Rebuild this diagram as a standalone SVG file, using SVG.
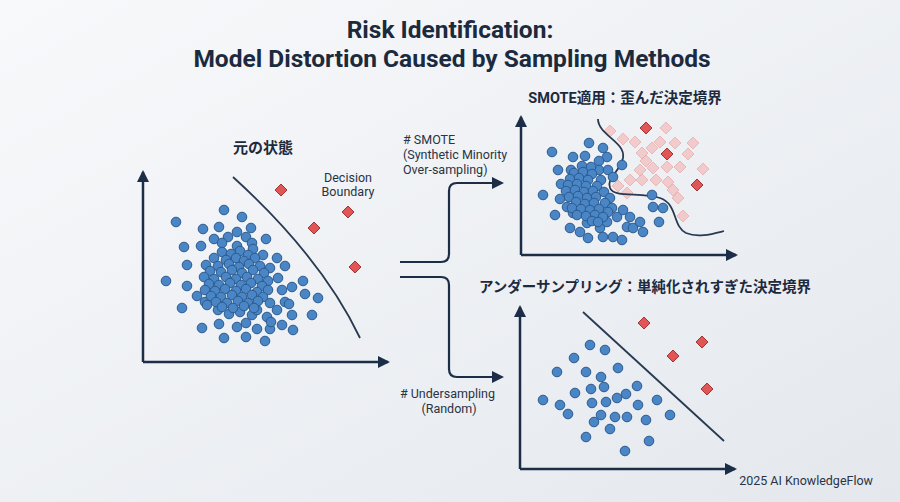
<svg xmlns="http://www.w3.org/2000/svg" width="900" height="502" viewBox="0 0 900 502">
<defs>
<linearGradient id="bg" x1="0" y1="0" x2="1" y2="1">
<stop offset="0" stop-color="#f8f9fb"/>
<stop offset="1" stop-color="#e4e8ed"/>
</linearGradient>
<marker id="ah" viewBox="0 0 12 12" refX="10" refY="6" markerWidth="12" markerHeight="12" markerUnits="userSpaceOnUse" orient="auto">
<path d="M0,0 L12,6 L0,12 Z" fill="#1c2e47"/>
</marker>
<path id="dm" d="M0,-6 L6,0 L0,6 L-6,0 Z"/>
</defs>
<style>
.axis{stroke:#1c2e47;stroke-width:2.5;fill:none}
.conn{stroke:#1c2e47;stroke-width:2.2;fill:none}
.bd{stroke:#283a52;stroke-width:1.8;fill:none}
.dots circle{fill:#4a86c6;stroke:#2b5a8e;stroke-width:1}
.red use{fill:#e05656;stroke:#a63333;stroke-width:1}
.pink use{fill:#f4bcbc;stroke:#eaa0a0;stroke-width:1;opacity:0.7}
.t{font-family:Roboto,"Noto Sans CJK JP",sans-serif;fill:#1c2a3e}
.h{font-family:Roboto,"Noto Sans CJK JP",sans-serif;font-weight:bold;fill:#1c2a3e}
.s{font-family:Roboto,"Liberation Sans",sans-serif;fill:#2a3444;font-size:12.5px}
</style>
<rect width="900" height="502" fill="url(#bg)"/>
<g id="title">
<text class="h" x="450" y="38" font-size="24.5" text-anchor="middle">Risk Identification:</text>
<text class="h" x="452" y="67" font-size="24.5" text-anchor="middle">Model Distortion Caused by Sampling Methods</text>
</g>
<g id="connectors">
<path class="conn" d="M400,262 H441 Q449,262 449,254 V191 Q449,183 457,183 H502" marker-end="url(#ah)"/>
<path class="conn" d="M400,277 H441 Q449,277 449,285 V369 Q449,377 457,377 H502" marker-end="url(#ah)"/>
<text class="s" x="403" y="144">
<tspan x="403">#&#160;SMOTE</tspan>
<tspan x="403" dy="15">(Synthetic Minority</tspan>
<tspan x="403" dy="15">Over-sampling)</tspan>
</text>
<text class="s" x="449" y="398" text-anchor="middle">
<tspan x="449"># Undersampling</tspan>
<tspan x="449" dy="15">(Random)</tspan>
</text>
</g>
<g id="original">
<text class="h" x="263" y="153" font-size="15" text-anchor="middle">元の状態</text>
<path class="axis" d="M143,362 V172" marker-end="url(#ah)"/>
<path class="axis" d="M143,362 H388" marker-end="url(#ah)"/>
<path class="bd" d="M233,177 Q322,258 360,338"/>
<text class="s" x="348" y="182" text-anchor="middle" font-size="12"><tspan x="348">Decision</tspan><tspan x="348" dy="14">Boundary</tspan></text>
<g class="red">
<use href="#dm" x="281" y="190"/><use href="#dm" x="348" y="212"/><use href="#dm" x="314" y="228"/><use href="#dm" x="355" y="267"/>
</g>
<g class="dots">
<circle cx="224" cy="210" r="4.8"/><circle cx="176" cy="222" r="4.8"/><circle cx="242" cy="217" r="4.8"/><circle cx="203" cy="229" r="4.8"/><circle cx="219" cy="227" r="4.8"/><circle cx="251" cy="228" r="4.8"/><circle cx="237" cy="232" r="4.8"/><circle cx="228" cy="237" r="4.8"/><circle cx="214" cy="239" r="4.8"/><circle cx="246" cy="237" r="4.8"/><circle cx="266" cy="239" r="4.8"/><circle cx="184" cy="247" r="4.8"/><circle cx="201" cy="246" r="4.8"/><circle cx="222" cy="243" r="4.8"/><circle cx="237" cy="246" r="4.8"/><circle cx="252" cy="243" r="4.8"/><circle cx="253" cy="249" r="4.8"/><circle cx="187" cy="265" r="4.8"/><circle cx="166" cy="281" r="4.8"/><circle cx="187" cy="286" r="4.8"/><circle cx="197" cy="296" r="4.8"/><circle cx="182" cy="308" r="4.8"/><circle cx="205" cy="302" r="4.8"/><circle cx="277" cy="258" r="4.8"/><circle cx="285" cy="266" r="4.8"/><circle cx="278" cy="278" r="4.8"/><circle cx="303" cy="281" r="4.8"/><circle cx="292" cy="287" r="4.8"/><circle cx="305" cy="294" r="4.8"/><circle cx="318" cy="298" r="4.8"/><circle cx="282" cy="290" r="4.8"/><circle cx="285" cy="302" r="4.8"/><circle cx="289" cy="304" r="4.8"/><circle cx="292" cy="315" r="4.8"/><circle cx="312" cy="315" r="4.8"/><circle cx="277" cy="310" r="4.8"/><circle cx="270" cy="303" r="4.8"/><circle cx="202" cy="328" r="4.8"/><circle cx="219" cy="324" r="4.8"/><circle cx="224" cy="338" r="4.8"/><circle cx="237" cy="327" r="4.8"/><circle cx="246" cy="323" r="4.8"/><circle cx="246" cy="337" r="4.8"/><circle cx="257" cy="329" r="4.8"/><circle cx="265" cy="341" r="4.8"/><circle cx="270" cy="329" r="4.8"/><circle cx="282" cy="325" r="4.8"/><circle cx="293" cy="330" r="4.8"/><circle cx="229" cy="314" r="4.8"/><circle cx="240" cy="312" r="4.8"/><circle cx="252" cy="315" r="4.8"/><circle cx="257" cy="310" r="4.8"/><circle cx="267" cy="317" r="4.8"/><circle cx="271" cy="322" r="4.8"/><circle cx="207" cy="305" r="4.8"/><circle cx="218" cy="310" r="4.8"/><circle cx="263" cy="255" r="4.8"/><circle cx="270" cy="268" r="4.8"/>
<circle cx="222" cy="252" r="4.8"/><circle cx="231" cy="254" r="4.8"/><circle cx="240" cy="251" r="4.8"/><circle cx="248" cy="255" r="4.8"/>
<circle cx="214" cy="258" r="4.8"/><circle cx="226" cy="260" r="4.8"/><circle cx="236" cy="258" r="4.8"/><circle cx="244" cy="261" r="4.8"/><circle cx="255" cy="258" r="4.8"/>
<circle cx="206" cy="265" r="4.8"/><circle cx="218" cy="266" r="4.8"/><circle cx="229" cy="264" r="4.8"/><circle cx="239" cy="267" r="4.8"/><circle cx="249" cy="264" r="4.8"/><circle cx="260" cy="266" r="4.8"/>
<circle cx="210" cy="271" r="4.8"/><circle cx="221" cy="272" r="4.8"/><circle cx="232" cy="270" r="4.8"/><circle cx="242" cy="273" r="4.8"/><circle cx="253" cy="270" r="4.8"/><circle cx="264" cy="273" r="4.8"/>
<circle cx="204" cy="277" r="4.8"/><circle cx="214" cy="279" r="4.8"/><circle cx="226" cy="277" r="4.8"/><circle cx="236" cy="279" r="4.8"/><circle cx="247" cy="277" r="4.8"/><circle cx="258" cy="279" r="4.8"/><circle cx="268" cy="281" r="4.8"/>
<circle cx="209" cy="284" r="4.8"/><circle cx="219" cy="285" r="4.8"/><circle cx="230" cy="283" r="4.8"/><circle cx="241" cy="285" r="4.8"/><circle cx="251" cy="283" r="4.8"/><circle cx="262" cy="286" r="4.8"/>
<circle cx="205" cy="290" r="4.8"/><circle cx="215" cy="291" r="4.8"/><circle cx="225" cy="289" r="4.8"/><circle cx="236" cy="291" r="4.8"/><circle cx="246" cy="289" r="4.8"/><circle cx="257" cy="292" r="4.8"/><circle cx="268" cy="290" r="4.8"/>
<circle cx="211" cy="296" r="4.8"/><circle cx="221" cy="297" r="4.8"/><circle cx="232" cy="295" r="4.8"/><circle cx="242" cy="297" r="4.8"/><circle cx="252" cy="295" r="4.8"/><circle cx="263" cy="297" r="4.8"/>
<circle cx="216" cy="302" r="4.8"/><circle cx="227" cy="303" r="4.8"/><circle cx="238" cy="301" r="4.8"/><circle cx="248" cy="303" r="4.8"/><circle cx="258" cy="301" r="4.8"/>
<circle cx="222" cy="307" r="4.8"/><circle cx="233" cy="308" r="4.8"/><circle cx="244" cy="306" r="4.8"/><circle cx="254" cy="308" r="4.8"/>
</g>
</g>
<g id="smote">
<text class="h" x="625" y="103" font-size="14.5" text-anchor="middle">SMOTE適用：歪んだ決定境界</text>
<path class="axis" d="M521,255 V117" marker-end="url(#ah)"/>
<path class="axis" d="M521,255 H736" marker-end="url(#ah)"/>
<g class="pink">
<use href="#dm" x="610" y="131"/><use href="#dm" x="623" y="139"/><use href="#dm" x="635" y="142"/><use href="#dm" x="666" y="128"/><use href="#dm" x="660" y="142"/><use href="#dm" x="652" y="148"/><use href="#dm" x="642" y="153"/><use href="#dm" x="675" y="143"/><use href="#dm" x="693" y="143"/><use href="#dm" x="646" y="161"/><use href="#dm" x="653" y="168"/><use href="#dm" x="667" y="167"/><use href="#dm" x="680" y="167"/><use href="#dm" x="688" y="154"/><use href="#dm" x="703" y="169"/><use href="#dm" x="640" y="170"/><use href="#dm" x="630" y="180"/><use href="#dm" x="618" y="186"/><use href="#dm" x="627" y="193"/><use href="#dm" x="642" y="180"/><use href="#dm" x="656" y="180"/><use href="#dm" x="668" y="182"/><use href="#dm" x="673" y="190"/><use href="#dm" x="678" y="198"/><use href="#dm" x="683" y="216"/>
</g>
<g class="red">
<use href="#dm" x="646" y="128"/><use href="#dm" x="667" y="154"/><use href="#dm" x="697" y="185"/>
</g>
<path class="bd" d="M598,119 C598,135 626,142 623,158 C620,172 606,178 610,188 C614,198 640,192 660,198 C678,204 672,226 686,233 C698,238 712,234 724,231"/>
<g class="dots">
<circle cx="589" cy="143" r="4.8"/><circle cx="552" cy="152" r="4.8"/><circle cx="573" cy="157" r="4.8"/><circle cx="585" cy="156" r="4.8"/><circle cx="603" cy="148" r="4.8"/><circle cx="607" cy="157" r="4.8"/><circle cx="599" cy="161" r="4.8"/><circle cx="558" cy="170" r="4.8"/><circle cx="571" cy="170" r="4.8"/><circle cx="599" cy="170" r="4.8"/><circle cx="608" cy="170" r="4.8"/><circle cx="622" cy="165" r="4.8"/><circle cx="613" cy="177" r="4.8"/><circle cx="561" cy="184" r="4.8"/><circle cx="543" cy="195" r="4.8"/><circle cx="560" cy="199" r="4.8"/><circle cx="567" cy="207" r="4.8"/><circle cx="555" cy="215" r="4.8"/><circle cx="573" cy="213" r="4.8"/><circle cx="570" cy="228" r="4.8"/><circle cx="587" cy="223" r="4.8"/><circle cx="580" cy="232" r="4.8"/><circle cx="588" cy="238" r="4.8"/><circle cx="600" cy="228" r="4.8"/><circle cx="607" cy="222" r="4.8"/><circle cx="617" cy="217" r="4.8"/><circle cx="623" cy="210" r="4.8"/><circle cx="630" cy="217" r="4.8"/><circle cx="627" cy="227" r="4.8"/><circle cx="633" cy="228" r="4.8"/><circle cx="643" cy="232" r="4.8"/><circle cx="640" cy="222" r="4.8"/><circle cx="652" cy="195" r="4.8"/><circle cx="653" cy="207" r="4.8"/><circle cx="663" cy="208" r="4.8"/><circle cx="659" cy="222" r="4.8"/><circle cx="603" cy="237" r="4.8"/><circle cx="613" cy="237" r="4.8"/><circle cx="622" cy="240" r="4.8"/>
<circle cx="582" cy="166" r="4.8"/><circle cx="591" cy="167" r="4.8"/>
<circle cx="574" cy="173" r="4.8"/><circle cx="583" cy="172" r="4.8"/><circle cx="592" cy="174" r="4.8"/><circle cx="601" cy="180" r="4.8"/>
<circle cx="570" cy="179" r="4.8"/><circle cx="579" cy="178" r="4.8"/><circle cx="588" cy="180" r="4.8"/><circle cx="597" cy="186" r="4.8"/>
<circle cx="568" cy="185" r="4.8"/><circle cx="577" cy="184" r="4.8"/><circle cx="586" cy="186" r="4.8"/><circle cx="604" cy="192" r="4.8"/>
<circle cx="566" cy="191" r="4.8"/><circle cx="575" cy="190" r="4.8"/><circle cx="584" cy="192" r="4.8"/><circle cx="593" cy="191" r="4.8"/><circle cx="610" cy="198" r="4.8"/>
<circle cx="569" cy="197" r="4.8"/><circle cx="578" cy="196" r="4.8"/><circle cx="587" cy="198" r="4.8"/><circle cx="596" cy="197" r="4.8"/><circle cx="605" cy="203" r="4.8"/>
<circle cx="576" cy="202" r="4.8"/><circle cx="585" cy="204" r="4.8"/><circle cx="594" cy="203" r="4.8"/><circle cx="612" cy="208" r="4.8"/>
<circle cx="572" cy="208" r="4.8"/><circle cx="581" cy="209" r="4.8"/><circle cx="590" cy="210" r="4.8"/><circle cx="599" cy="209" r="4.8"/><circle cx="608" cy="212" r="4.8"/>
<circle cx="577" cy="215" r="4.8"/><circle cx="586" cy="216" r="4.8"/><circle cx="595" cy="215" r="4.8"/><circle cx="603" cy="217" r="4.8"/>
<circle cx="592" cy="221" r="4.8"/><circle cx="598" cy="222" r="4.8"/>
</g>
</g>
<g id="undersampling">
<text class="h" x="645" y="292" font-size="14.5" text-anchor="middle">アンダーサンプリング：単純化されすぎた決定境界</text>
<path class="axis" d="M520,469 V307" marker-end="url(#ah)"/>
<path class="axis" d="M520,469 H735" marker-end="url(#ah)"/>
<path class="bd" d="M583,312 L724,441"/>
<g class="red">
<use href="#dm" x="644" y="323"/><use href="#dm" x="702" y="342"/><use href="#dm" x="673" y="356"/><use href="#dm" x="707" y="389"/>
</g>
<g class="dots">
<circle cx="590" cy="345" r="4.8"/><circle cx="605" cy="350" r="4.8"/><circle cx="574" cy="358" r="4.8"/><circle cx="618" cy="368" r="4.8"/><circle cx="557" cy="372" r="4.8"/><circle cx="586" cy="372" r="4.8"/><circle cx="601" cy="377" r="4.8"/><circle cx="604" cy="387" r="4.8"/><circle cx="591" cy="389" r="4.8"/><circle cx="637" cy="386" r="4.8"/><circle cx="575" cy="393" r="4.8"/><circle cx="626" cy="394" r="4.8"/><circle cx="617" cy="398" r="4.8"/><circle cx="543" cy="400" r="4.8"/><circle cx="560" cy="405" r="4.8"/><circle cx="592" cy="403" r="4.8"/><circle cx="606" cy="402" r="4.8"/><circle cx="638" cy="405" r="4.8"/><circle cx="657" cy="400" r="4.8"/><circle cx="568" cy="414" r="4.8"/><circle cx="601" cy="415" r="4.8"/><circle cx="615" cy="417" r="4.8"/><circle cx="627" cy="417" r="4.8"/><circle cx="646" cy="420" r="4.8"/><circle cx="670" cy="415" r="4.8"/><circle cx="594" cy="422" r="4.8"/><circle cx="610" cy="429" r="4.8"/><circle cx="586" cy="437" r="4.8"/><circle cx="649" cy="441" r="4.8"/><circle cx="625" cy="451" r="4.8"/>
</g>
</g>
<g id="footer">
<text class="s" x="873" y="485" font-size="11.5" text-anchor="end">2025 AI KnowledgeFlow</text>
</g>
</svg>
